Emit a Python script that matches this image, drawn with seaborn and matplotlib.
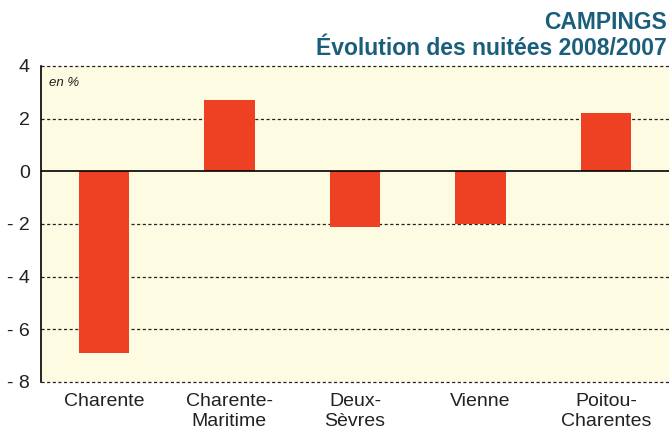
import numpy as np
import pandas as pd
import matplotlib
matplotlib.use("Agg")
import matplotlib.pyplot as plt
import seaborn as sns

# data
departements = ["Charente", "Charente-\nMaritime", "Deux-\nSèvres", "Vienne", "Poitou-\nCharentes"]
evolution = [-6.9, 2.7, -2.1, -2.0, 2.2]
yticks = [4, 2, 0, -2, -4, -6, -8]
ytick_labels = ["4", "2", "0", "- 2", "- 4", "- 6", "- 8"]

df = pd.DataFrame({"dep": departements, "evol": evolution})

sns.set_style("white")
plt.rcParams["font.family"] = ["Liberation Sans", "DejaVu Sans"]

fig = plt.figure(figsize=(6.69, 4.33), dpi=100)
ax = fig.add_axes([0.0613, 0.1178, 0.9387, 0.7298])
ax.set_facecolor("#fdfbe2")

sns.barplot(data=df, x="dep", y="evol", color="#ee4023", width=0.4,
            saturation=1, linewidth=0, ax=ax, zorder=3)

ax.set_ylim(-8, 4)
ax.set_xlim(-0.5, 4.5)
ax.set_yticks(yticks)
ax.set_yticklabels(ytick_labels)
ax.tick_params(axis="both", length=0, labelsize=14, colors="#222222")
ax.tick_params(axis="y", pad=8)
ax.tick_params(axis="x", pad=8)
ax.set_xlabel("")
ax.set_ylabel("")

# dashed grid lines, solid zero line
for v in yticks:
    if v == 0:
        ax.axhline(v, color="black", lw=1.2, zorder=4)
    else:
        ax.axhline(v, color="#222222", lw=0.9, ls=(0, (2.5, 2)), zorder=2, clip_on=False)

for s in ["top", "right", "bottom"]:
    ax.spines[s].set_visible(False)
ax.spines["left"].set_color("black")
ax.spines["left"].set_linewidth(1.2)

ax.text(0.012, 0.965, "en %", transform=ax.transAxes, fontsize=9.5,
        style="italic", color="#222222", va="top", ha="left")

fig.text(0.997, 0.949, "CAMPINGS", ha="right", va="center", fontsize=16.5,
         fontweight="bold", color="#1b5e7b")
fig.text(0.997, 0.889, "Évolution des nuitées 2008/2007", ha="right", va="center",
         fontsize=16.5, fontweight="bold", color="#1b5e7b")

fig.savefig("out.png", dpi=100)
